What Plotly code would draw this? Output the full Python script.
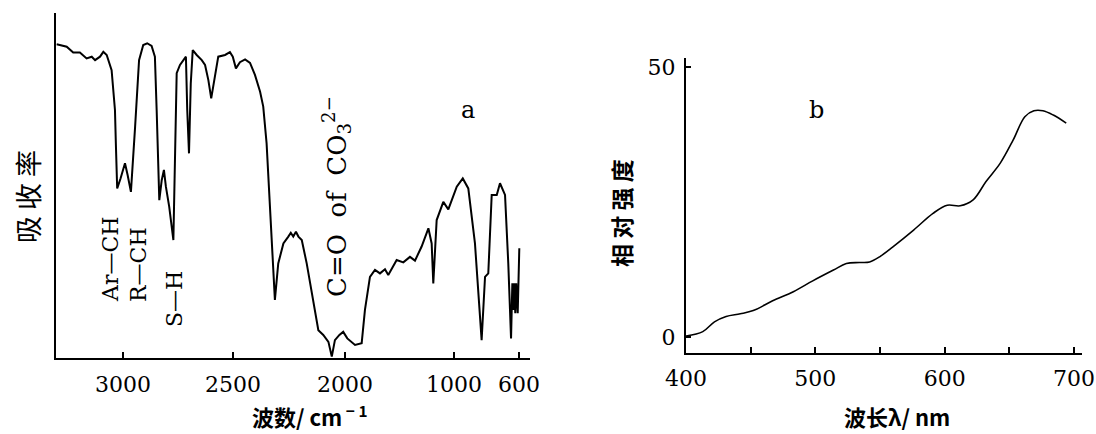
import numpy as np
import plotly.graph_objects as go

# ---------------- data: panel a (IR spectrum) ----------------
IR_WAVENUMBER = [3297, 3252, 3223, 3193, 3163, 3140, 3125, 3103, 3088, 3073,
                 3051, 3036, 3032, 3026, 3011, 2991, 2979, 2964, 2945, 2927,
                 2908, 2890, 2870, 2855, 2847, 2835, 2824, 2814, 2805, 2790,
                 2771, 2764, 2756, 2741, 2723, 2714, 2708, 2700, 2692, 2683,
                 2665, 2642, 2627, 2612, 2599, 2586, 2567, 2536, 2514, 2501,
                 2487, 2469, 2446, 2424, 2402, 2379, 2365, 2350, 2335, 2323,
                 2313, 2298, 2275, 2253, 2242, 2231, 2219, 2208, 2193, 2171,
                 2141, 2119, 2097, 2074, 2059, 2045, 2025, 2008, 1979, 1908,
                 1847, 1817, 1771, 1725, 1679, 1633, 1603, 1526, 1465, 1404,
                 1358, 1297, 1235, 1205, 1190, 1159, 1098, 1052, 983, 946,
                 912, 871, 830, 809, 789, 768, 737, 717, 686, 666,
                 649, 641, 635, 629, 623, 617, 608, 598]
IR_ABSORBANCE = [91.2, 90.5, 88.8, 88.8, 87.1, 87.6, 86.6, 87.6, 89.0, 88.1,
                 83.7, 72.1, 62.4, 49.3, 52.2, 56.6, 53.2, 48.3, 67.2, 86.6,
                 91.0, 91.5, 90.7, 87.6, 72.1, 45.9, 51.7, 54.7, 49.8, 44.0,
                 34.3, 57.6, 82.8, 85.2, 86.8, 87.6, 72.1, 59.5, 79.8, 89.5,
                 88.1, 86.6, 85.2, 80.8, 75.5, 80.3, 87.6, 88.1, 88.9, 87.6,
                 84.2, 86.0, 86.8, 85.8, 82.3, 77.4, 73.1, 62.4, 43.0, 25.6,
                 16.9, 27.5, 33.3, 35.3, 36.4, 35.3, 36.7, 35.3, 34.3, 27.5,
                 15.9, 8.1, 6.7, 4.7, 0.4, 5.2, 6.7, 7.6, 5.7, 3.8,
                 4.3, 14.0, 23.6, 25.6, 24.6, 25.8, 24.1, 28.5, 27.8, 29.4,
                 28.3, 32.4, 37.7, 33.3, 21.7, 40.1, 45.4, 43.2, 49.8, 52.2,
                 49.3, 33.3, 5.2, 23.6, 24.6, 47.4, 47.4, 50.8, 47.4, 27.5,
                 5.7, 21.7, 14.0, 21.7, 13.0, 21.7, 13.0, 31.9]
IR_TICK_WN = [3000, 2500, 2000, 1000, 600]
IR_TICK_LABELS = ["3000", "2500", "2000", "1000", "600"]
# piecewise scale of the wavenumber axis (scale changes at 2000 and 1000 cm-1)
IR_SCALE_WN = [3300, 3000, 2500, 2000, 1000, 600, 530]
IR_SCALE_U = [0, 67, 177, 289, 398, 463, 474]

# ---------------- data: panel b (emission spectrum) ----------------
UV_WAVELENGTH = [400, 413, 422, 431, 442, 452, 467, 483, 498, 514,
                 524, 534, 542, 550, 560, 576, 591, 602, 612, 622,
                 632, 643, 653, 662, 669, 676, 684, 694]
UV_INTENSITY = [0.2, 1.0, 2.8, 3.8, 4.3, 4.9, 6.7, 8.4, 10.4, 12.4,
                13.6, 13.8, 13.9, 14.9, 16.7, 19.8, 22.9, 24.4, 24.3, 25.4,
                28.8, 32.2, 36.5, 40.8, 41.9, 41.9, 41.1, 39.6]
UV_TICKS = [400, 500, 600, 700]
UV_TICK_LABELS = ["400", "500", "600", "700"]
UV_MINOR_TICKS = [450, 550, 650]
UV_Y_TICKS = [0, 50]
UV_Y_TICK_LABELS = ["0", "50"]


def ir_axis(wn):
    return np.interp(-np.asarray(wn, dtype=float),
                     -np.asarray(IR_SCALE_WN, dtype=float),
                     np.asarray(IR_SCALE_U, dtype=float))


W, H = 1096, 434
SERIF = "DejaVu Serif"
CJK = "Noto Sans CJK SC"

fig = go.Figure()
fig.add_trace(go.Scatter(x=ir_axis(IR_WAVENUMBER), y=IR_ABSORBANCE, mode="lines",
                         line=dict(color="black", width=2), xaxis="x", yaxis="y",
                         showlegend=False))
fig.add_trace(go.Scatter(x=UV_WAVELENGTH, y=UV_INTENSITY, mode="lines",
                         line=dict(color="black", width=1.6, shape="spline"),
                         xaxis="x2", yaxis="y2", showlegend=False))


def px(x):
    return x / W


def py(y):
    return 1 - y / H


axis_common = dict(showgrid=False, zeroline=False, showline=True, linecolor="black",
                   linewidth=2, tickcolor="black", tickwidth=1.5, automargin=False,
                   tickfont=dict(family=SERIF, size=22, color="black"))

fig.update_layout(
    width=W, height=H, margin=dict(l=0, r=0, t=0, b=0, autoexpand=False),
    paper_bgcolor="white", plot_bgcolor="white",
    xaxis=dict(domain=[px(56), px(530)], range=[0, 474], ticks="inside",
               tickvals=list(ir_axis(IR_TICK_WN)), ticktext=IR_TICK_LABELS,
               ticklen=6, ticklabelstandoff=6, anchor="y", **axis_common),
    yaxis=dict(domain=[py(358), py(13)], range=[0, 100.3], showticklabels=False,
               ticks="", anchor="x", **axis_common),
    xaxis2=dict(domain=[px(686), px(1082)], range=[400, 706.2], ticks="inside",
                tickvals=UV_TICKS, ticktext=UV_TICK_LABELS, ticklen=6,
                minor=dict(tickvals=UV_MINOR_TICKS, ticks="inside", ticklen=6,
                           tickwidth=1.5, tickcolor="black", showgrid=False),
                ticklabelstandoff=5, anchor="y2", **axis_common),
    yaxis2=dict(domain=[py(353), py(58)], range=[-2.96, 51.67], ticks="inside",
                tickvals=UV_Y_TICKS, ticktext=UV_Y_TICK_LABELS, ticklen=5,
                ticklabelstandoff=4, anchor="x2", **axis_common),
)

ann = []


def add(text, x, y, size, family=SERIF, angle=0, bold=False):
    if bold:
        text = "<b>" + text + "</b>"
    ann.append(dict(text=text, x=px(x), y=py(y), xref="paper", yref="paper",
                    showarrow=False, textangle=angle, xanchor="center", yanchor="middle",
                    font=dict(family=family, size=size, color="black")))


add("a", 468, 110, 24)
add("b", 816, 110, 24)
add("Ar—CH", 110, 260, 22, angle=-90)
add("R—CH", 138, 265, 22, angle=-90)
add("S—H", 174, 299, 22, angle=-90)
add("C=O  of  CO<sub>3</sub><sup>2−</sup>", 336, 197, 26, angle=-90)
add("吸 收 率", 27, 197, 27, family=CJK, angle=-90)
add("相 对 强 度", 621, 213, 23, family=CJK, angle=-90, bold=True)
add("波数/ cm<sup> − 1</sup>", 309, 415, 22, family=CJK, bold=True)
add("波长λ/ nm", 897, 416, 22, family=CJK, bold=True)

fig.update_layout(annotations=ann)
fig.write_html(
    "out.html",
    config={"displayModeBar": False},
    post_script="document.body.style.margin='0';document.body.style.overflow='hidden';",
)
